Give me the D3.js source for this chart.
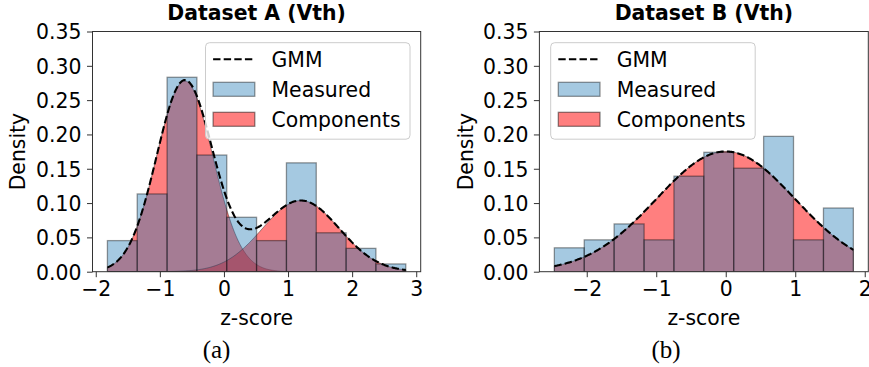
<!DOCTYPE html>
<html>
<head>
<meta charset="utf-8">
<script src="https://cdn.jsdelivr.net/npm/d3@7"></script>
<style>
  html, body { margin: 0; padding: 0; background: #fff; }
  svg { display: block; }
</style>
</head>
<body>
<svg id="chart" width="869" height="367"></svg>
<script>
// ---- Dataset A (Vth): histogram bin edges and density per bin ----
const edgesA = [-1.818, -1.353, -0.887, -0.422, 0.044, 0.509, 0.975, 1.440, 1.906, 2.371, 2.837];
const densityA = [0.0453, 0.1133, 0.2833, 0.1700, 0.0793, 0.0453, 0.1586, 0.0567, 0.0340, 0.0113];
// fitted mixture components: weight, mean, standard deviation
const weightsA = [0.305, 0.156];
const meansA = [-0.612, 1.20];
const sigmasA = [0.4375, 0.60];

// ---- Dataset B (Vth) ----
const edgesB = [-2.466, -2.036, -1.606, -1.175, -0.745, -0.315, 0.115, 0.545, 0.975, 1.406, 1.836];
const densityB = [0.0348, 0.0464, 0.0696, 0.0464, 0.1392, 0.1740, 0.1508, 0.1972, 0.0464, 0.0928];
const weightsB = [0.437];
const meansB = [0.0];
const sigmasB = [0.995];

// ---- axes ticks and labels ----
const xTicksA = [-2, -1, 0, 1, 2, 3];
const xTicksB = [-2, -1, 0, 1, 2];
const yTicks = [0, 0.05, 0.10, 0.15, 0.20, 0.25, 0.30, 0.35];
const titles = ["Dataset A (Vth)", "Dataset B (Vth)"];
const captions = ["(a)", "(b)"];
const legendLabels = ["GMM", "Measured", "Components"];

const svg = d3.select("#chart");
svg.append("rect").attr("width", 869).attr("height", 367).attr("fill", "#fff");

const FONT = 20.4;
const CAP = 0.729 * FONT;
const SANS = "'DejaVu Sans', sans-serif";

function normPdf(x, mu, s) {
  return Math.exp(-0.5 * ((x - mu) / s) ** 2) / (s * Math.sqrt(2 * Math.PI));
}

function label(sel) {
  return sel.style("font-family", SANS).attr("font-size", FONT).attr("fill", "#000");
}

function panel(opts) {
  const { left, right, top, bottom, edges, density, weights, means, sigmas,
          xTicks, title, caption, captionX, ylabelX, legendSide } = opts;
  const lo = edges[0], hi = edges[edges.length - 1];
  const pad = (hi - lo) * 0.05;
  const x = d3.scaleLinear().domain([lo - pad, hi + pad]).range([left, right]);
  const y = d3.scaleLinear().domain([0, 0.35]).range([bottom, top]);

  const g = svg.append("g");
  const clipId = "clip" + title.replace(/\W/g, "");
  svg.append("clipPath").attr("id", clipId)
    .append("rect").attr("x", left).attr("y", top)
    .attr("width", right - left).attr("height", bottom - top);
  const plot = g.append("g").attr("clip-path", `url(#${clipId})`);

  // sample grid for curves, spanning the histogram range
  const nPts = 400;
  const xs = d3.range(nPts + 1).map(i => lo + (hi - lo) * i / nPts);

  // component fills
  const area = d3.area().x(d => x(d[0])).y0(y(0)).y1(d => y(d[1]));
  weights.forEach((w, k) => {
    const pts = xs.map(v => [v, w * normPdf(v, means[k], sigmas[k])]);
    plot.append("path")
      .attr("d", area(pts))
      .attr("fill", "rgba(255,0,0,0.5)")
      .attr("stroke", "rgba(0,0,0,0.45)")
      .attr("stroke-width", 0.9);
  });

  // measured histogram
  plot.selectAll("rect.bar").data(density).join("rect")
    .attr("class", "bar")
    .attr("x", (d, i) => x(edges[i]))
    .attr("width", (d, i) => x(edges[i + 1]) - x(edges[i]))
    .attr("y", d => y(d))
    .attr("height", d => y(0) - y(d))
    .attr("fill", "rgba(31,119,180,0.4)")
    .attr("stroke", "rgba(0,0,0,0.4)")
    .attr("stroke-width", 1.3);

  // GMM total
  const gmm = xs.map(v => [v, d3.sum(weights, (w, k) => w * normPdf(v, means[k], sigmas[k]))]);
  plot.append("path")
    .attr("d", d3.line().x(d => x(d[0])).y(d => y(d[1]))(gmm))
    .attr("fill", "none")
    .attr("stroke", "#000")
    .attr("stroke-width", 2.1)
    .attr("stroke-dasharray", "7.4,3.2");

  // axes
  const xAxis = d3.axisBottom(x).tickValues(xTicks).tickSize(5.5).tickPadding(4)
    .tickFormat(d => d < 0 ? "\u2212" + Math.abs(d) : String(d));
  const yAxis = d3.axisLeft(y).tickValues(yTicks).tickSize(5.5).tickPadding(5.5)
    .tickFormat(d3.format(".2f"));
  const xa = g.append("g").attr("transform", `translate(0,${bottom})`).call(xAxis);
  const ya = g.append("g").attr("transform", `translate(${left},0)`).call(yAxis);
  [xa, ya].forEach(a => {
    a.select(".domain").remove();
    a.selectAll(".tick line").attr("stroke", "#333").attr("stroke-width", 1);
    label(a.selectAll(".tick text"));
  });
  xa.selectAll(".tick text").attr("dy", null).attr("y", 5.5 + 4 + CAP);
  ya.selectAll(".tick text").attr("dy", null).attr("y", CAP / 2);

  // frame
  g.append("rect").attr("x", left).attr("y", top)
    .attr("width", right - left).attr("height", bottom - top)
    .attr("fill", "none").attr("stroke", "#333").attr("stroke-width", 1);

  // title and labels
  label(g.append("text")).attr("x", (left + right) / 2).attr("y", 20)
    .attr("text-anchor", "middle").attr("font-weight", "bold")
    .text(title);
  label(g.append("text")).attr("x", (left + right) / 2).attr("y", 325)
    .attr("text-anchor", "middle").text("z-score");
  label(g.append("text"))
    .attr("transform", `translate(${ylabelX},${(top + bottom) / 2}) rotate(-90)`)
    .attr("text-anchor", "middle").text("Density");
  g.append("text").attr("x", captionX).attr("y", 358)
    .attr("text-anchor", "middle").attr("font-size", 25).attr("fill", "#000")
    .style("font-family", "'Liberation Serif', 'DejaVu Serif', serif").text(caption);

  // legend
  const lw = 204.5, lh = 96.5;
  const lx = legendSide === "right" ? right - 10.7 - lw : left + 11.3;
  const ly = top + 11.2;
  const lg = g.append("g").attr("transform", `translate(${lx},${ly})`);
  lg.append("rect").attr("width", lw).attr("height", lh).attr("rx", 4)
    .attr("fill", "rgba(255,255,255,0.8)").attr("stroke", "#cccccc").attr("stroke-width", 1);
  const rowY = [16.6, 46.6, 76.6];
  lg.append("line").attr("x1", 7.6).attr("x2", 49.3).attr("y1", rowY[0]).attr("y2", rowY[0])
    .attr("stroke", "#000").attr("stroke-width", 2.1).attr("stroke-dasharray", "7.4,3.2");
  lg.append("rect").attr("x", 7.6).attr("y", rowY[1] - 7).attr("width", 41.7).attr("height", 14)
    .attr("fill", "rgba(31,119,180,0.4)").attr("stroke", "rgba(0,0,0,0.4)").attr("stroke-width", 1.3);
  lg.append("rect").attr("x", 7.6).attr("y", rowY[2] - 7).attr("width", 41.7).attr("height", 14)
    .attr("fill", "rgba(255,0,0,0.5)").attr("stroke", "rgba(0,0,0,0.45)").attr("stroke-width", 1.3);
  legendLabels.forEach((t, i) => {
    label(lg.append("text")).attr("x", 66).attr("y", rowY[i] + CAP / 2).text(t);
  });
}

panel({
  left: 92.5, right: 420.7, top: 31.5, bottom: 271.7,
  edges: edgesA, density: densityA, weights: weightsA, means: meansA, sigmas: sigmasA,
  xTicks: xTicksA, title: titles[0], caption: captions[0], captionX: 216.5,
  ylabelX: 24.5, legendSide: "right"
});
panel({
  left: 539.4, right: 868.3, top: 31.5, bottom: 271.7,
  edges: edgesB, density: densityB, weights: weightsB, means: meansB, sigmas: sigmasB,
  xTicks: xTicksB, title: titles[1], caption: captions[1], captionX: 666,
  ylabelX: 472.5, legendSide: "left"
});
</script>
</body>
</html>
